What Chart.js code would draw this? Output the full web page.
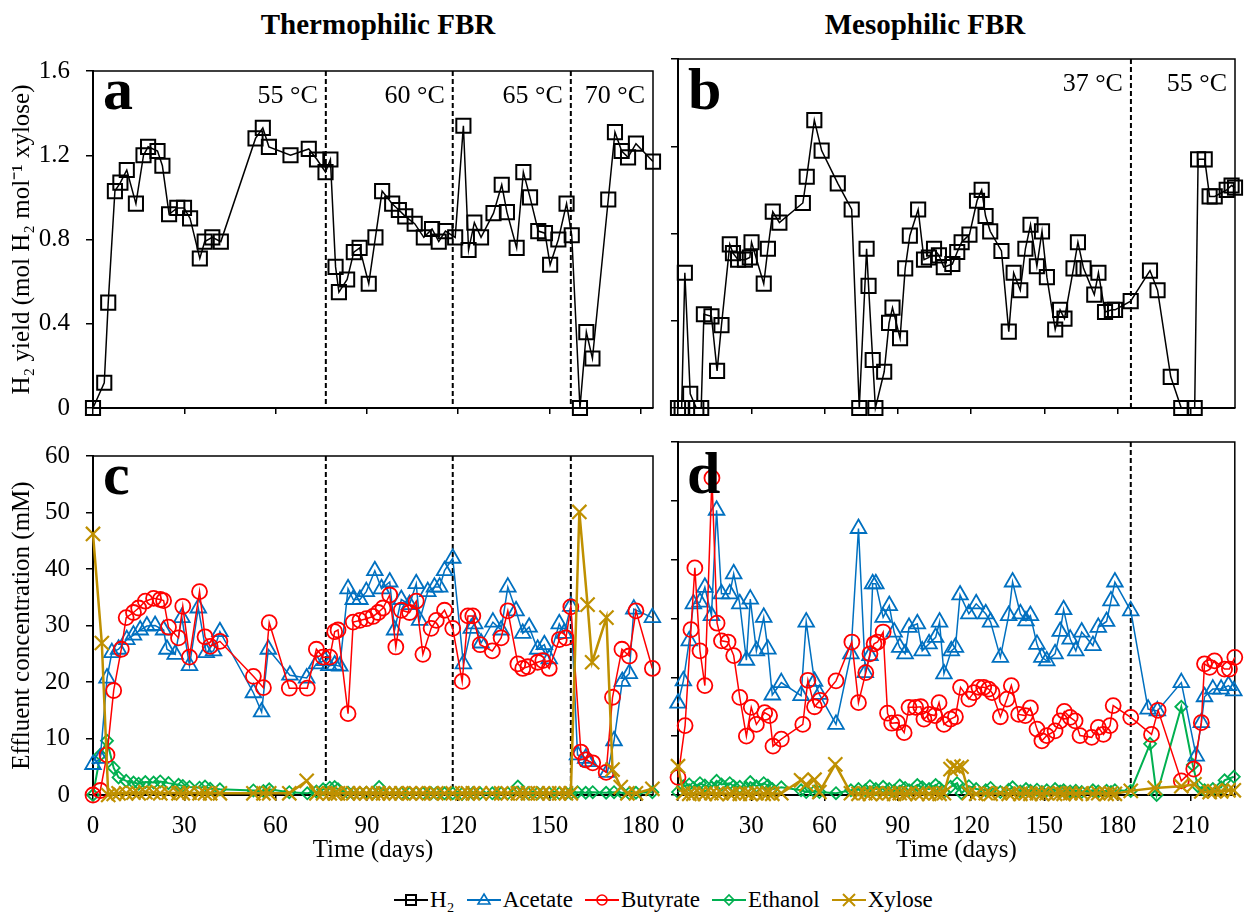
<!DOCTYPE html>
<html>
<head>
<meta charset="utf-8">
<script src="https://cdn.jsdelivr.net/npm/chart.js@4.4.1/dist/chart.umd.min.js"></script>
<style>
  body { margin: 0; background: #fff; font-family: "Liberation Serif", "Times New Roman", serif; }
  #page { position: relative; width: 1247px; height: 912px; overflow: hidden; background: #fff; }
  canvas { position: absolute; }
  .head { position: absolute; width: 400px; text-align: center; font-size: 29px; font-weight: bold; line-height: 1; }
  .letter { position: absolute; font-size: 60px; font-weight: bold; line-height: 1; }
  #legend { position: absolute; left: 394px; top: 886px; height: 28px; display: flex; align-items: center; font-size: 23px; }
  #legend span.item { display: flex; align-items: center; margin-right: 12px; }
  #legend svg { margin-right: 2px; }
</style>
</head>
<body>
<div id="page">
  <div class="head" style="left:178px;top:10px">Thermophilic FBR</div>
  <div class="head" style="left:725px;top:10px">Mesophilic FBR</div>

  <canvas id="chartA" width="672" height="410" style="left:0;top:40px"></canvas>
  <canvas id="chartB" width="587" height="410" style="left:660px;top:40px"></canvas>
  <canvas id="chartC" width="672" height="445" style="left:0;top:425px"></canvas>
  <canvas id="chartD" width="587" height="445" style="left:660px;top:425px"></canvas>

  <div class="letter" style="left:103px;top:59px">a</div>
  <div class="letter" style="left:688px;top:59px">b</div>
  <div class="letter" style="left:103px;top:444px">c</div>
  <div class="letter" style="left:687px;top:443px">d</div>

  <div id="legend"></div>
</div>

<script>
// ---- data: [day, value] ----
const thermoCuts = [76.5, 118.2, 157];
const thermoStages = ['55 °C', '60 °C', '65 °C', '70 °C'];
const mesoCuts = [185.4];
const mesoStages = ['37 °C', '55 °C'];

const thermoH2 = [[0,0],[3.7,0.12],[5,0.50],[7.2,1.03],[9,1.07],[11.1,1.13],[14.1,0.97],[16.6,1.20],[18.1,1.24],[21.2,1.22],[22.8,1.15],[25,0.92],[27.7,0.95],[29.9,0.95],[31.9,0.90],[35.1,0.71],[36.7,0.79],[39.2,0.81],[42,0.79],[53.4,1.28],[55.8,1.33],[57.8,1.24],[64.9,1.20],[70.9,1.23],[73.6,1.18],[76.4,1.12],[78,1.18],[79.7,0.67],[80.8,0.55],[83.5,0.61],[85.7,0.74],[87.6,0.76],[90.6,0.59],[92.8,0.81],[95,1.03],[98.3,0.97],[100.5,0.94],[102.6,0.91],[105.7,0.875],[108.7,0.81],[111.4,0.85],[113.6,0.79],[115.8,0.84],[119,0.81],[121.7,1.34],[123.4,0.75],[125.3,0.88],[127.5,0.81],[131.6,0.925],[134.3,1.06],[136,0.93],[139.2,0.76],[141.4,1.12],[143.6,1.00],[146.3,0.84],[148.5,0.83],[150.2,0.68],[152.9,0.80],[155.6,0.97],[157.3,0.82],[160,0],[162.1,0.36],[164.1,0.235],[169.3,0.99],[171.5,1.31],[173.7,1.22],[175.8,1.19],[178.4,1.255],[184,1.17]];

const mesoH2 = [[0,0],[1.5,0],[2.8,0.62],[5,0.065],[7.5,0],[9.5,0],[10.6,0.43],[13.7,0.42],[16,0.17],[17.8,0.38],[21.2,0.75],[22.5,0.71],[24.6,0.68],[27.4,0.68],[29.4,0.69],[30.1,0.76],[35.1,0.57],[36.8,0.73],[38.8,0.90],[41.5,0.85],[51.1,0.94],[52.7,1.06],[55.8,1.32],[58.8,1.18],[65.4,1.03],[71.1,0.91],[74.2,0],[77.2,0.73],[78,0.56],[79.7,0.22],[80.8,0],[84.4,0.166],[86.4,0.39],[87.8,0.46],[90.9,0.32],[93,0.64],[94.9,0.79],[98.3,0.91],[100.7,0.68],[102.7,0.69],[104.8,0.73],[106.8,0.70],[108.8,0.646],[112.3,0.66],[114.3,0.715],[116.1,0.76],[119.3,0.795],[122.4,0.95],[124.3,1.0],[125.9,0.88],[127.8,0.81],[132.4,0.72],[135.4,0.35],[137.4,0.62],[140.1,0.54],[142.2,0.73],[144.3,0.84],[146.9,0.65],[149,0.81],[151,0.60],[154.4,0.36],[156.4,0.45],[158.2,0.41],[161.9,0.64],[163.7,0.76],[166,0.64],[170.4,0.52],[172.1,0.62],[174.8,0.44],[177.6,0.45],[178.9,0.45],[185.3,0.49],[193.2,0.63],[196.3,0.54],[201.7,0.143],[206,0],[211.5,0],[212.9,1.14],[215.6,1.14],[217.6,0.97],[219.7,0.97],[224.6,1.0],[226.6,1.02],[228,1.01]];

const thermoAcetate = [[0,5.4],[2.4,6.5],[4.6,20.7],[6.2,25.2],[8.4,25.8],[11.1,27.5],[13.3,28.3],[15.5,29.2],[17.7,29.9],[20.4,30],[23.2,29.2],[24.3,25.8],[27,24.9],[29.2,31.4],[31.7,22.9],[34.6,33.1],[37.2,25.2],[39.6,25.5],[41.7,28.9],[52.7,18.1],[55.4,14.7],[57.6,25.8],[64.7,21.2],[70.2,20.7],[73.4,23.2],[76.2,23.8],[77.5,22.9],[79.4,23],[81.1,22.8],[83.8,36.5],[85.5,34.6],[87.7,34.6],[89.8,36],[92.6,39.7],[94.8,36.5],[97.5,37.7],[99.1,29.2],[101.3,34.6],[104,33.7],[106.2,37.4],[107.3,30.9],[110,36],[112.2,36.8],[113.9,36.8],[115.5,39.7],[118.2,41.9],[121.7,23.2],[124.3,29.5],[125.4,30.3],[127.5,26.9],[131.4,30.6],[134.1,29.2],[136.3,36.8],[139,32.6],[141.2,28.6],[143.3,29.7],[146.1,25.8],[148.3,26.6],[149.9,24.1],[153.2,30.3],[154.8,28.6],[157,33.4],[159.2,7.1],[161.9,6.5],[163,5.9],[169,4],[171.2,9.6],[173.9,20.1],[176.2,21.5],[177.7,32.9],[183.8,31.4]];

const thermoButyrate = [[0,0],[2.4,0.8],[4.6,7.1],[6.8,18.5],[9.3,25.8],[10.9,31.4],[13.3,32.3],[15,33.1],[17.2,34.3],[19.9,34.8],[22.1,34.6],[23.2,34.4],[24.8,29.7],[28.1,27.8],[29.5,33.4],[31.7,24.4],[35,36],[36.8,28],[38.5,26.3],[41.7,27.2],[52.7,21],[56,19],[57.9,30.5],[64.5,18.9],[70.4,18.9],[73.4,25.8],[75.6,24.4],[77.8,24.4],[79.4,28.9],[80.5,29.2],[83.8,14.4],[85.5,30.6],[87.7,30.9],[89.8,31.2],[92,31.6],[93.7,32.3],[95.3,33.1],[97.5,35.4],[99.5,26.2],[101.3,32.7],[104,32.3],[106.2,34.3],[108.4,24.9],[111.1,29.5],[112.8,30.9],[115.5,32.7],[118.2,29.5],[121.3,20.1],[123.2,31.7],[124.8,31.7],[127.2,26.6],[131.2,25.5],[134.1,27.8],[136.3,32.6],[139.6,23.2],[141.2,22.4],[142.9,22.7],[146.1,23.5],[147.8,23.8],[149.9,22.4],[153.2,27.5],[155.4,27.8],[157,33.3],[160.3,7.6],[161.9,6.2],[164.2,5.7],[168.6,4],[170.7,17.3],[173.8,25.8],[176.2,24.6],[178.4,32.6],[183.8,22.4]];

const thermoEthanol = [[0,0],[2.4,7.1],[4.6,9.6],[6.8,4.8],[8.4,3.1],[10.9,2.5],[13.3,2.2],[15,2.0],[17.2,2.3],[19.9,2.2],[22.1,2.4],[24.8,2.1],[28.1,1.8],[29.5,1.6],[31.7,1.4],[35,1.3],[36.8,1.5],[38.5,1.1],[41.7,1.0],[52.7,0.8],[56,0.7],[57.9,1.0],[64.5,0.5],[70.4,0.3],[73.4,0.6],[75.6,1.0],[77.8,1.3],[79.4,1.4],[80.5,1.0],[83.8,0.4],[85.5,0.3],[87.7,0.3],[89.8,0.4],[92,0.3],[94,1.4],[97.5,0.3],[99.5,0.3],[101.3,0.3],[104,0.3],[106.2,0.3],[108.4,0.3],[111.1,0.3],[112.8,0.3],[115.5,0.3],[118.2,0.3],[121.3,0.2],[123.2,0.3],[124.8,0.3],[127.2,0.3],[131.2,0.3],[134.1,0.3],[136.3,0.3],[139.6,1.5],[141.2,0.3],[142.9,0.3],[146.1,0.3],[147.8,0.3],[149.9,0.3],[153.2,0.3],[155.4,0.3],[157,0.3],[159.2,0.5],[161.9,0.4],[164.2,0.5],[168.6,0.4],[171.2,0.5],[173.8,0.4],[176.2,0.3],[178.4,0.4],[183.8,0.5]];

const thermoXylose = [[0,46.2],[2.9,26.9],[5,0],[6.8,0.2],[8.4,0.3],[10.9,0.3],[13.3,0.4],[15,0.3],[17.2,0.5],[19.9,0.4],[22.1,0.3],[24.8,0.4],[28.1,0.3],[29.5,0.3],[31.7,0.4],[35,0.3],[36.8,0.3],[38.5,0.3],[41.7,0.3],[52.7,0.3],[56,0.3],[57.9,0.3],[64.5,0.3],[70.2,2.5],[73.4,0.3],[75.6,0.3],[77.8,0.3],[79.4,0.3],[80.5,0.3],[83.8,0.3],[85.5,0.3],[87.7,0.3],[89.8,0.3],[92,0.3],[93.7,0.3],[95.3,0.3],[97.5,0.3],[99.5,0.3],[101.3,0.3],[104,0.3],[106.2,0.3],[108.4,0.3],[111.1,0.3],[112.8,0.3],[115.5,0.3],[118.2,0.3],[121.3,0.3],[123.2,0.3],[124.8,0.3],[127.2,0.3],[131.2,0.3],[134.1,0.3],[136.3,0.3],[139.6,0.3],[141.2,0.3],[142.9,0.3],[146.1,0.3],[147.8,0.3],[149.9,0.3],[153.2,0.3],[155.4,0.3],[157,0.3],[159.8,50.1],[162.5,33.7],[164,23.5],[168.7,31.4],[170.7,4.5],[173.4,1.4],[175.6,0.3],[178.4,0.3],[183.8,1.1]];

const mesoAcetate = [[0,15.6],[2.2,19.4],[4.6,26.2],[6.3,32.5],[9,32.8],[11,35.3],[13.7,30.5],[15.8,48.4],[17.8,34.2],[21.2,34.2],[22.8,37.6],[25.3,32.5],[28,22.9],[29.6,33.3],[32.1,24.5],[35.1,30.2],[36.8,24.8],[38.6,17],[42.3,19.1],[50.4,16.9],[52.5,29.4],[55.9,19.3],[57.9,17.1],[64.7,12],[70.8,24],[73.9,45.3],[76.7,20.8],[78.6,23.7],[79.7,35.9],[81,35.9],[84,30.2],[86.5,32.2],[88.5,27.7],[90.8,25.1],[93,24],[94.6,28.5],[98,29.1],[100,24.5],[102.8,25.7],[105.5,26.8],[107.1,29.4],[108.9,20.6],[111.9,24.5],[113.6,25.1],[115.5,34],[119.1,30.8],[122.1,32.5],[126,30.8],[128,29.4],[132,23.4],[135.4,30.5],[137,36.2],[140.2,30.8],[142.5,29.6],[144.3,30.5],[147,25.6],[149,23.4],[151,22.8],[154.4,24],[156.5,27.8],[157.9,31.5],[160.6,26.5],[162.9,24.5],[165.3,27.7],[169.9,25.4],[172.1,28.5],[175.5,29.5],[177.3,33],[178.9,36.2],[185.4,31.3],[192.5,14.6],[196.3,14.3],[206.1,19.1],[212.2,6.6],[214.3,12.3],[215.6,16.7],[219,18],[222.4,18],[225.4,18.6],[227.6,17.7]];

const mesoButyrate = [[0,3],[2.9,11.8],[5.3,28.1],[6.9,38.6],[9,24.5],[11,18.6],[13.9,53.9],[16,29.2],[17.8,26.2],[20.5,26],[22.8,23.7],[25.3,16.6],[28,10],[30,14.9],[32.1,12],[35.5,14],[37.5,13.5],[38.9,8.3],[42.3,9.5],[51.1,12],[53.2,19.5],[55.9,15],[58.2,16.1],[64.7,19.4],[71.2,26],[73.9,15.7],[76.9,20.8],[78.6,24],[80.3,25.7],[81.7,26],[84,27.7],[85.8,13.9],[87.5,12.2],[89.9,12.3],[92.6,10.6],[94.6,14.9],[97.3,14.9],[99.4,15],[100.7,12.9],[102.8,13.7],[105.2,13.5],[106.9,15.7],[108.9,12],[111.6,12.9],[113.6,13.3],[115.7,18.3],[119.1,16.3],[121.1,17.4],[123.2,18.3],[125.2,18.3],[127.2,18],[128.6,17.4],[132,13.3],[134.7,16.3],[136.5,18.6],[139.5,13.7],[142.2,13.5],[144.3,14.8],[147,11.2],[149,9.2],[151,10.1],[154.4,10.9],[156.5,12.6],[158.2,14.2],[160.6,13.2],[162.6,12.6],[164.6,10.1],[169.4,9.8],[172.1,11.5],[174.2,10.3],[176.9,11.8],[178.2,15.2],[185.4,13.2],[193.9,10.3],[196.6,14.4],[206.1,2.4],[211.2,4.4],[214.3,12.3],[215.6,22.3],[217.7,21.7],[219.7,22.8],[223.8,21.4],[225.8,21.4],[228,23.4]];

const mesoEthanol = [[0,0.5],[2.2,1.5],[4.6,1.8],[6.3,1.2],[9,2.0],[11,1.6],[13.7,1.3],[15.8,2.4],[17.8,1.8],[21.2,2.0],[22.8,1.5],[25.3,1.4],[28,1.2],[29.6,2.2],[32.1,1.5],[35.1,2.0],[36.8,1.6],[38.6,1.0],[42.3,1.3],[50.4,0.8],[52.5,0.5],[55.9,0.6],[57.9,0.5],[64.7,0.3],[70.8,0.8],[73.9,1.0],[76.7,0.8],[78.6,1.5],[81,1.0],[84,1.4],[86.5,1.0],[88.5,0.7],[90.8,1.6],[93,1.2],[94.6,0.8],[98,1.7],[100,1.3],[102.8,1.0],[105.5,1.7],[107.1,1.2],[108.9,0.5],[111.6,1.4],[114.3,2.0],[116.1,0.3],[119.1,1.5],[122.1,1.0],[126,0.8],[128,1.2],[132,0.5],[135.4,0.9],[137,1.3],[140.2,0.6],[142.5,1.0],[144.3,0.7],[147,0.9],[149,0.5],[151,0.8],[154.4,1.0],[156.5,0.6],[157.9,0.8],[160.6,0.6],[162.9,0.7],[165.3,0.5],[169.9,0.8],[172.1,0.6],[175.5,0.7],[177.3,0.5],[178.9,0.8],[185.4,0.7],[193.3,8.7],[196,0],[206.1,15],[210.8,5.1],[212.9,1.5],[215.6,0.8],[219,1.0],[222.4,1.3],[223.8,2.5],[227.6,3.1]];

const mesoXylose = [[0,4.9],[2.2,0.3],[4.6,0.2],[6.3,0.2],[9,0.3],[11,0.2],[13.7,0.3],[15.8,0.2],[17.8,0.3],[21.2,0.2],[22.8,0.3],[25.3,0.2],[28,0.3],[29.6,0.2],[32.1,0.3],[35.1,0.2],[36.8,0.3],[38.6,0.2],[42.3,0.3],[50.4,2.5],[52.5,1.8],[55.9,2.6],[57.9,0.5],[64.4,5.2],[70.8,0.3],[73.9,0.2],[76.7,0.3],[78.6,0.2],[81,0.3],[84,0.2],[86.5,0.3],[88.5,0.2],[90.8,0.3],[93,0.2],[94.6,0.3],[98,0.2],[100,0.3],[102.8,0.2],[105.5,0.3],[107.1,0.2],[108.9,0.3],[111.6,4.4],[112.8,4.9],[114.3,4.6],[116.1,4.8],[119.1,0.3],[122.1,0.2],[126,0.3],[128,0.2],[132,0.3],[135.4,0.2],[137,0.3],[140.2,0.2],[142.5,0.3],[144.3,0.2],[147,0.3],[149,0.2],[151,0.3],[154.4,0.2],[156.5,0.3],[157.9,0.2],[160.6,0.3],[162.9,0.2],[165.3,0.3],[169.9,0.2],[172.1,0.3],[175.5,0.2],[177.3,0.3],[178.9,0.2],[185.4,0.7],[195.2,1.2],[206.1,1.5],[211.5,1.8],[214.3,0.6],[217.7,0.5],[219.7,0.6],[222.4,0.6],[225.4,0.8],[227.6,0.8]];

// ---- styles ----
const st = {
  h2:       { label: 'H₂',       color: '#000000', shape: 'rect',     r: 10,  pw: 2,   lw: 1.5 },
  acetate:  { label: 'Acetate',  color: '#0070C0', shape: 'triangle', r: 9,   pw: 1.8, lw: 1.5 },
  butyrate: { label: 'Butyrate', color: '#FF0000', shape: 'circle',   r: 7.5, pw: 1.8, lw: 1.5 },
  ethanol:  { label: 'Ethanol',  color: '#00B050', shape: 'rectRot',  r: 6,   pw: 1.8, lw: 2 },
  xylose:   { label: 'Xylose',   color: '#BF9000', shape: 'crossRot', r: 10,  pw: 2.2, lw: 2.5 }
};

Chart.defaults.font.family = '"Liberation Serif", "Times New Roman", serif';
Chart.defaults.font.size = 25;
Chart.defaults.color = '#000';

function series(pairs, s, order) {
  return {
    label: s.label,
    data: pairs.map(p => ({ x: p[0], y: p[1] })),
    borderColor: s.color,
    backgroundColor: 'rgba(0,0,0,0)',
    borderWidth: s.lw,
    pointStyle: s.shape,
    pointRadius: s.r,
    pointBorderWidth: s.pw,
    pointBorderColor: s.color,
    pointBackgroundColor: 'rgba(0,0,0,0)',
    tension: 0,
    fill: false,
    clip: false,
    order: order
  };
}

function xAxis(max, labels, h) {
  return {
    type: 'linear', min: 0, max: max,
    ticks: { stepSize: 30, includeBounds: false, display: labels, padding: 10, maxRotation: 0 },
    grid: { drawOnChartArea: false, tickLength: 6, color: '#000', lineWidth: 1.5 },
    border: { color: '#000', width: 2 },
    title: { display: labels, text: 'Time (days)', padding: { top: 0, bottom: 5 } },
    afterFit: s => { s.height = h; }
  };
}

function yAxis(max, step, labels, title, w) {
  return {
    min: 0, max: max,
    ticks: { stepSize: step, display: labels, padding: 16 },
    grid: { drawOnChartArea: false, tickLength: 7, color: '#000', lineWidth: 1.5 },
    border: { color: '#000', width: 2 },
    title: { display: !!title, text: title || '', padding: { top: 7, bottom: 0 } },
    afterFit: s => { s.width = w; }
  };
}

// top/right frame, stage boundaries and stage temperatures
const framePlugin = {
  id: 'frame',
  beforeDatasetsDraw(chart, args, opts) {
    const { ctx, chartArea: a } = chart;
    const x = chart.scales.x;
    ctx.save();
    ctx.strokeStyle = '#000';
    ctx.lineWidth = 1.5;
    ctx.beginPath();
    ctx.moveTo(a.left, a.top);
    ctx.lineTo(a.right, a.top);
    ctx.lineTo(a.right, a.bottom);
    ctx.stroke();

    ctx.lineWidth = 2;
    ctx.setLineDash([5, 3]);
    opts.cuts.forEach(d => {
      const px = x.getPixelForValue(d);
      ctx.beginPath();
      ctx.moveTo(px, a.top);
      ctx.lineTo(px, a.bottom);
      ctx.stroke();
    });
    ctx.setLineDash([]);

    if (opts.stages) {
      ctx.font = '26px "Liberation Serif", serif';
      ctx.fillStyle = '#000';
      ctx.textAlign = 'right';
      ctx.textBaseline = 'alphabetic';
      const ends = opts.cuts.concat([x.max]);
      opts.stages.forEach((t, i) => ctx.fillText(t, x.getPixelForValue(ends[i]) - 8, a.top + 32));
    }
    ctx.restore();
  }
};

function makeChart(id, datasets, scales, pad, frame) {
  return new Chart(document.getElementById(id), {
    type: 'line',
    data: { datasets: datasets },
    options: {
      responsive: false,
      animation: false,
      layout: { padding: pad },
      scales: scales,
      plugins: { legend: { display: false }, tooltip: { enabled: false }, frame: frame }
    },
    plugins: [framePlugin]
  });
}

makeChart('chartA',
  [series(thermoH2, st.h2, 0)],
  { x: xAxis(184, false, 42), y: yAxis(1.6, 0.4, true, 'H₂ yield (mol H₂ mol⁻¹ xylose)', 93) },
  { top: 18, right: 19, bottom: 0, left: 0 },
  { cuts: thermoCuts, stages: thermoStages });

makeChart('chartB',
  [series(mesoH2, st.h2, 0)],
  { x: xAxis(228, false, 42), y: yAxis(1.6, 0.4, false, null, 18) },
  { top: 19, right: 9, bottom: 0, left: 0 },
  { cuts: mesoCuts, stages: mesoStages });

makeChart('chartC',
  [series(thermoXylose, st.xylose, 0), series(thermoButyrate, st.butyrate, 1),
   series(thermoAcetate, st.acetate, 2), series(thermoEthanol, st.ethanol, 3)],
  { x: xAxis(184, true, 75), y: yAxis(60, 10, true, 'Effluent concentration (mM)', 93) },
  { top: 17, right: 19, bottom: 0, left: 0 },
  { cuts: thermoCuts });

makeChart('chartD',
  [series(mesoXylose, st.xylose, 0), series(mesoButyrate, st.butyrate, 1),
   series(mesoAcetate, st.acetate, 2), series(mesoEthanol, st.ethanol, 3)],
  { x: xAxis(228, true, 75), y: yAxis(60, 10, false, null, 18) },
  { top: 17, right: 9, bottom: 0, left: 0 },
  { cuts: mesoCuts });

// ---- legend ----
function icon(s) {
  const c = s.color, m = 17, y = 11;
  let mark = '';
  if (s.shape === 'rect') mark = `<rect x="${m-5}" y="${y-5}" width="10" height="10" fill="none" stroke="${c}" stroke-width="2"/>`;
  if (s.shape === 'triangle') mark = `<polygon points="${m},${y-6} ${m+6},${y+4} ${m-6},${y+4}" fill="none" stroke="${c}" stroke-width="1.6"/>`;
  if (s.shape === 'circle') mark = `<circle cx="${m}" cy="${y}" r="5" fill="none" stroke="${c}" stroke-width="1.6"/>`;
  if (s.shape === 'rectRot') mark = `<polygon points="${m-5},${y} ${m},${y-5} ${m+5},${y} ${m},${y+5}" fill="none" stroke="${c}" stroke-width="1.6"/>`;
  if (s.shape === 'crossRot') mark = `<path d="M${m-6} ${y-6}L${m+6} ${y+6}M${m+6} ${y-6}L${m-6} ${y+6}" stroke="${c}" stroke-width="2"/>`;
  return `<svg width="34" height="22"><line x1="0" y1="${y}" x2="34" y2="${y}" stroke="${c}" stroke-width="2"/>${mark}</svg>`;
}
document.getElementById('legend').innerHTML =
  [st.h2, st.acetate, st.butyrate, st.ethanol, st.xylose]
    .map(s => `<span class="item">${icon(s)}<span>${s.label}</span></span>`).join('');
</script>
</body>
</html>
